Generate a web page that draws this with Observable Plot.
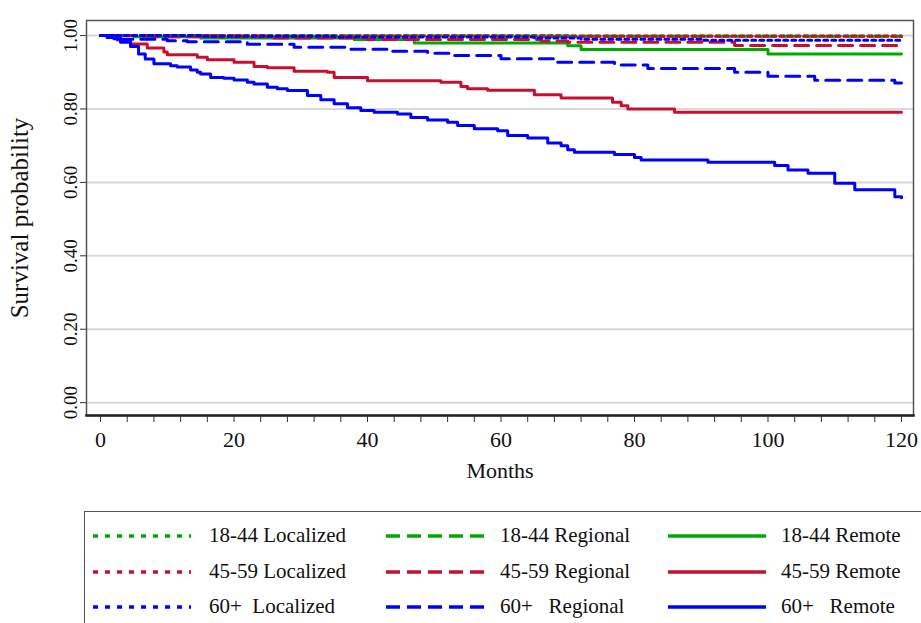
<!DOCTYPE html>
<html>
<head>
<meta charset="utf-8">
<script src="https://cdn.jsdelivr.net/npm/d3@7"></script>
<script src="https://cdn.jsdelivr.net/npm/@observablehq/plot@0.6"></script>
<style>
  html, body { margin: 0; padding: 0; background: #fff; overflow: hidden; }
  body { width: 921px; height: 623px; position: relative; font-family: "Liberation Serif", "DejaVu Serif", serif; }
  #chart { position: absolute; left: 0; top: 0; }
  #legend { position: absolute; left: 84px; top: 511px; width: 880px; height: 140px;
            border: 1.5px solid #555; box-sizing: border-box; }
  .item { position: absolute; height: 20px; font-size: 21px; color: #111; white-space: pre; }
  .item svg { position: absolute; left: 0; top: 0; }
  .item span { position: absolute; top: -3px; }
</style>
</head>
<body>
<div id="chart"></div>
<div id="legend"></div>
<script>
// ---- Data (month, survival probability) ----
const ageGroups = ["18-44", "45-59", "60+"];
const stages = ["Localized", "Regional", "Remote"];
const xTickLabels = [0, 20, 40, 60, 80, 100, 120];
const xMinorTicks = d3.range(0, 121, 4);
const yTickLabels = [0, 0.2, 0.4, 0.6, 0.8, 1.0];

const s1844Localized = [[0,1],[30,1],[70,0.999],[120,0.999]];
const s1844Regional  = [[0,1],[20,0.999],[60,0.998],[120,0.997]];
const s1844Remote    = [[0,1],[5,0.997],[15,0.993],[38,0.989],[47,0.980],[70,0.972],[72,0.962],[100,0.950],[120,0.950]];
const s4559Localized = [[0,1],[25,0.999],[60,0.998],[120,0.998]];
const s4559Regional  = [[0,1],[8,0.997],[25,0.993],[40,0.989],[66,0.985],[70,0.982],[95,0.973],[120,0.973]];
const s4559Remote    = [[0,1],[1,0.995],[2.5,0.988],[4.5,0.977],[7,0.966],[9.5,0.955],[10,0.948],[14.5,0.941],[16,0.934],[20,0.927],[23,0.916],[25,0.912],[29,0.903],[34,0.900],[35,0.886],[40,0.877],[51,0.873],[54,0.861],[55,0.855],[58,0.851],[65,0.839],[69,0.830],[76.7,0.818],[78,0.809],[79,0.800],[86,0.791],[120,0.791]];
const s60Localized   = [[0,1],[15,0.998],[35,0.996],[65,0.993],[72,0.990],[90,0.987],[120,0.986]];
const s60Regional    = [[0,1],[1,0.995],[3,0.990],[10,0.986],[13,0.983],[22,0.976],[29,0.968],[37,0.963],[43,0.957],[49,0.952],[53,0.946],[60,0.937],[68,0.927],[77,0.920],[82,0.910],[95,0.900],[100,0.889],[107,0.878],[119,0.871],[120,0.871]];
const s60Remote      = [[0,1],[2,0.991],[3,0.982],[4.5,0.970],[5.7,0.950],[6.7,0.936],[8,0.923],[10.5,0.918],[11.5,0.914],[13.5,0.906],[14.5,0.900],[15,0.895],[16.5,0.886],[18.5,0.884],[20,0.879],[22,0.873],[23,0.868],[25,0.859],[26.5,0.855],[28,0.850],[31,0.837],[33,0.825],[35,0.814],[37,0.803],[39,0.796],[41,0.791],[44.5,0.786],[46.5,0.777],[49,0.770],[52,0.764],[53.5,0.755],[56,0.746],[59.5,0.741],[61,0.728],[64,0.721],[67,0.707],[69,0.700],[70,0.689],[71,0.682],[77,0.676],[80,0.668],[81,0.661],[91,0.655],[101,0.646],[103,0.634],[106,0.625],[110,0.598],[113,0.580],[119,0.561],[120,0.558]];

const seriesValues = [
  [s1844Localized, s1844Regional, s1844Remote],
  [s4559Localized, s4559Regional, s4559Remote],
  [s60Localized,   s60Regional,   s60Remote]
];

// ---- Styles ----
const ageColors = ["#00aa00", "#c8102e", "#0000ff"];
const stageDash = ["4,4", "14,8", null];
const FONT = "Liberation Serif";

const series = [];
ageGroups.forEach((age, i) => stages.forEach((stage, j) => {
  series.push({
    age, stage, color: ageColors[i], dash: stageDash[j],
    rows: seriesValues[i][j].map(([month, surv]) => ({month, surv}))
  });
}));

const lineMarks = series.map(s => Plot.line(s.rows, {
  x: "month", y: "surv", curve: "step-after",
  stroke: s.color, strokeWidth: 3, strokeDasharray: s.dash
}));

const chart = Plot.plot({
  width: 921,
  height: 495,
  marginLeft: 86,
  marginRight: 8,
  marginTop: 20,
  marginBottom: 80,
  style: {fontFamily: FONT, background: "white", color: "#111"},
  x: {domain: [-2.1, 121.8]},
  y: {domain: [-0.035, 1.041]},
  marks: [
    Plot.gridY(yTickLabels, {stroke: "#d8d8d8", strokeOpacity: 1, strokeWidth: 2}),
    ...lineMarks,
    Plot.frame({stroke: "#555", strokeWidth: 1.5}),
    Plot.frame({anchor: "bottom", stroke: "#222", strokeWidth: 2.5}),
    Plot.axisX(xMinorTicks, {tickSize: 7, tickFormat: () => "", stroke: "#333", label: null}),
    Plot.axisX(xTickLabels, {tickSize: 0, tickPadding: 16, fontSize: 22, fontFamily: FONT, label: null}),
    Plot.axisX({ticks: [], label: "Months", labelAnchor: "center", labelOffset: 62,
      labelArrow: "none", fontSize: 22, fontFamily: FONT}),
    Plot.axisY(yTickLabels, {tickSize: 6, tickPadding: 4, tickRotate: -90, fontSize: 19, fontFamily: FONT,
      tickFormat: d3.format(".2f"), stroke: "#333", label: null}),
    Plot.axisY({ticks: [], label: "Survival probability", labelAnchor: "center", labelOffset: 76,
      labelArrow: "none", fontSize: 25, fontFamily: FONT})
  ]
});
document.getElementById("chart").appendChild(chart);

// ---- Legend (HTML below the SVG) ----
const legend = document.getElementById("legend");
const colX = [8, 301, 583];        // swatch left inside box
const textX = [124, 415, 696];     // text left inside box
const rowY = [14, 50, 85];         // item top inside box
const labelsText = [
  ["18-44 Localized", "18-44 Regional", "18-44 Remote"],
  ["45-59 Localized", "45-59 Regional", "45-59 Remote"],
  ["60+  Localized", "60+   Regional", "60+   Remote"]
];
ageGroups.forEach((age, i) => stages.forEach((stage, j) => {
  const item = document.createElement("div");
  item.className = "item";
  item.style.left = colX[j] + "px";
  item.style.top = rowY[i] + "px";
  item.style.width = "300px";
  const sw = d3.create("svg").attr("width", 100).attr("height", 20);
  sw.append("line").attr("x1", 0).attr("x2", 98).attr("y1", 10).attr("y2", 10)
    .attr("stroke", ageColors[i]).attr("stroke-width", 3.5)
    .attr("stroke-dasharray", stageDash[j] === "4,4" ? "5,7" : stageDash[j] === "14,8" ? "14,7" : null);
  item.appendChild(sw.node());
  const t = document.createElement("span");
  t.style.left = (textX[j] - colX[j]) + "px";
  t.textContent = labelsText[i][j];
  item.appendChild(t);
  legend.appendChild(item);
}));
</script>
</body>
</html>
